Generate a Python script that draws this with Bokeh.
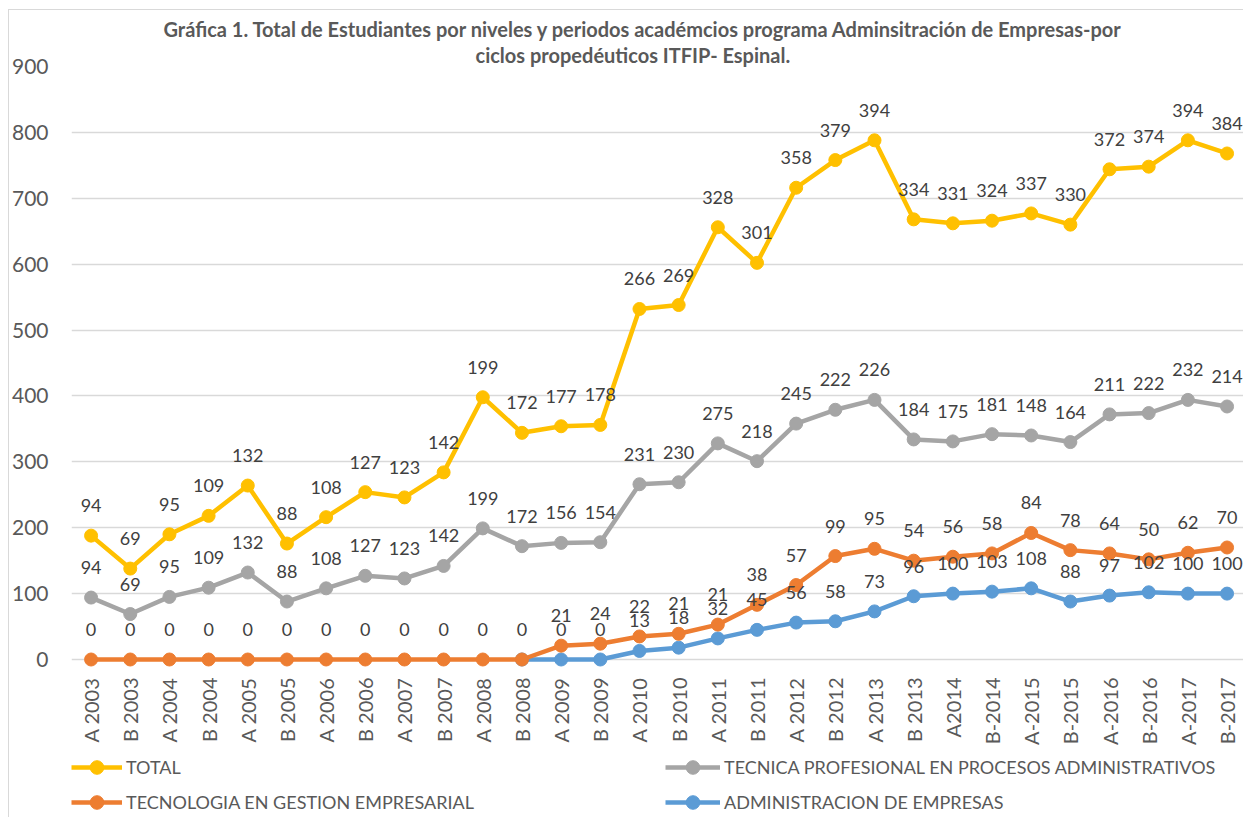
import math
from bokeh.plotting import figure
from bokeh.layouts import column
from bokeh.models import (Range1d, FixedTicker, Legend, LegendItem, ColumnDataSource, Title,
                          InlineStyleSheet)
from bokeh.core.properties import value
from bokeh.embed import file_html
from bokeh.resources import INLINE

periods = ["A 2003", "B 2003", "A 2004", "B 2004", "A 2005", "B 2005", "A 2006", "B 2006",
           "A 2007", "B 2007", "A 2008", "B 2008", "A 2009", "B 2009", "A 2010", "B 2010",
           "A 2011", "B 2011", "A 2012", "B 2012", "A 2013", "B 2013", "A2014", "B-2014",
           "A-2015", "B-2015", "A-2016", "B-2016", "A-2017", "B-2017"]
total = [94, 69, 95, 109, 132, 88, 108, 127, 123, 142, 199, 172, 177, 178, 266, 269,
         328, 301, 358, 379, 394, 334, 331, 324, 337, 330, 372, 374, 394, 384]
tecnica = [94, 69, 95, 109, 132, 88, 108, 127, 123, 142, 199, 172, 156, 154, 231, 230,
           275, 218, 245, 222, 226, 184, 175, 181, 148, 164, 211, 222, 232, 214]
tecnologia = [0, 0, 0, 0, 0, 0, 0, 0, 0, 0, 0, 0, 21, 24, 22, 21,
              21, 38, 57, 99, 95, 54, 56, 58, 84, 78, 64, 50, 62, 70]
administracion = [None, None, None, None, None, None, None, None, None, None, None, 0, 0, 0, 13, 18,
                  32, 45, 56, 58, 73, 96, 100, 103, 108, 88, 97, 102, 100, 100]

names = ["TOTAL", "TECNICA PROFESIONAL EN PROCESOS ADMINISTRATIVOS",
         "TECNOLOGIA EN GESTION EMPRESARIAL", "ADMINISTRACION DE EMPRESAS"]
colors = {"TOTAL": "#FFC000", "TECNICA": "#A5A5A5", "TECNOLOGIA": "#ED7D31", "ADMIN": "#5B9BD5"}

title_line1 = ("Gráfica 1. Total de Estudiantes por niveles y periodos académcios programa "
               "Adminsitración de Empresas-por")
title_line2 = "ciclos propedéuticos ITFIP- Espinal."

FONT = "Lato"
xs = list(range(len(periods)))

# stacked line positions (Excel "stacked line" chart); labels show the raw values
a0 = [v if v is not None else 0 for v in administracion]
s_admin = [float('nan') if v is None else v for v in administracion]
s_tecno = [a + b for a, b in zip(a0, tecnologia)]
s_tecnica = [a + b for a, b in zip(s_tecno, tecnica)]
s_total = [a + b for a, b in zip(s_tecnica, total)]

MAIN_H = 750
p = figure(width=1243, height=MAIN_H, output_backend="svg", toolbar_location=None, title=None,
           x_range=Range1d(-0.5, 29.42), y_range=Range1d(-12.14, 900),
           min_border_left=71, min_border_right=0, min_border_top=66, min_border_bottom=83)
p.outline_line_color = None
p.background_fill_color = "white"
p.border_fill_color = "white"
p.stylesheets = [InlineStyleSheet(css=(
    ":host::after { content: ''; position: absolute; left: 8px; top: 9px; right: 0; bottom: 0;"
    " border-left: 1px solid #d9d9d9; border-top: 1px solid #d9d9d9; pointer-events: none; }"))]

for txt, off in [(title_line2, 404), (title_line1, 92)]:
    t = Title(text=txt, align="left", offset=off, standoff=0, text_font=FONT,
              text_font_size="20px", text_font_style="bold", text_color="#595959")
    p.add_layout(t, "above")

# axes
p.xaxis.ticker = FixedTicker(ticks=xs)
p.xaxis.major_label_overrides = {i: c for i, c in zip(xs, periods)}
p.xaxis.major_label_orientation = math.pi / 2
p.xaxis.major_label_text_font = FONT
p.xaxis.major_label_text_font_size = "20px"
p.xaxis.major_label_text_color = "#595959"
p.xaxis.major_label_standoff = 10
p.xaxis.major_tick_out = 0
p.xaxis.major_tick_in = 0
p.xaxis.minor_tick_out = 0
p.xaxis.axis_line_color = None
p.xaxis.major_tick_line_color = None
p.xaxis.minor_tick_line_color = None

p.yaxis.ticker = FixedTicker(ticks=[0, 100, 200, 300, 400, 500, 600, 700, 800, 900])
p.yaxis.major_label_text_font = FONT
p.yaxis.major_label_text_font_size = "21px"
p.yaxis.major_label_text_color = "#595959"
p.yaxis.major_label_standoff = 23
p.yaxis.major_tick_out = 0
p.yaxis.major_tick_in = 0
p.yaxis.minor_tick_out = 0
p.yaxis.axis_line_color = None
p.yaxis.major_tick_line_color = None
p.yaxis.minor_tick_line_color = None

p.xgrid.grid_line_color = None
p.ygrid.grid_line_color = "#D9D9D9"
p.ygrid.grid_line_width = 1.3

series = [
    ("ADMIN", s_admin, administracion),
    ("TECNOLOGIA", s_tecno, tecnologia),
    ("TECNICA", s_tecnica, tecnica),
    ("TOTAL", s_total, total),
]
for key, ys, raw in series:
    src = ColumnDataSource(dict(x=xs, y=ys))
    p.line("x", "y", source=src, line_color=colors[key], line_width=4.5)
    p.scatter("x", "y", source=src, size=13, fill_color=colors[key], line_color=colors[key])

for key, ys, raw in series:
    keep = [r is not None and not (key == "ADMIN" and tecnologia[i] == 0) for i, r in enumerate(raw)]
    lx = [x for x, k in zip(xs, keep) if k]
    ly = [y for y, k in zip(ys, keep) if k]
    lt = [str(r) for r, k in zip(raw, keep) if k]
    p.text(x=lx, y=ly, text=lt, text_font=value(FONT), text_font_size=value("18px"),
           text_color="#404040", text_align="center", text_baseline="middle", y_offset=-30)

# legend strip under the chart (its frame is aligned with the chart frame, left = 71)
LEG_H = 817 - MAIN_H
lg_fig = figure(width=1243, height=LEG_H, output_backend="svg", toolbar_location=None, title=None,
                x_range=Range1d(0, 1), y_range=Range1d(0, 1),
                min_border_left=71, min_border_right=0, min_border_top=0, min_border_bottom=0)
lg_fig.axis.visible = False
lg_fig.grid.visible = False
lg_fig.outline_line_color = None
lg_fig.border_fill_color = "white"
lg_fig.stylesheets = [InlineStyleSheet(css=(
    ":host::after { content: ''; position: absolute; left: 8px; top: 0; right: 0; bottom: 0;"
    " border-left: 1px solid #d9d9d9; pointer-events: none; }"))]

lr = {}
for key in ["TOTAL", "TECNICA", "TECNOLOGIA", "ADMIN"]:
    ln = lg_fig.line(x=[-10, -9], y=[-10, -10], line_color=colors[key], line_width=4.5)
    sc = lg_fig.scatter(x=[-10], y=[-10], size=13, fill_color=colors[key], line_color=colors[key])
    lr[key] = [ln, sc]

def mk_legend(items, loc, gw):
    lg = Legend(items=items, location=loc, orientation="vertical",
                background_fill_alpha=0, border_line_alpha=0, padding=0, margin=0,
                spacing=1, glyph_width=gw, glyph_height=34, label_height=34,
                label_standoff=4, label_text_font=FONT, label_text_font_size="18px",
                label_text_color="#595959")
    lg_fig.add_layout(lg, "center")

mk_legend([LegendItem(label=names[0], renderers=lr["TOTAL"]),
           LegendItem(label=names[2], renderers=lr["TECNOLOGIA"])], (0, -2), 51)
mk_legend([LegendItem(label=names[1], renderers=lr["TECNICA"]),
           LegendItem(label=names[3], renderers=lr["ADMIN"])], (594, -2), 55)

layout = column(p, lg_fig, spacing=0)
open("out.html", "w").write(file_html(layout, INLINE))
